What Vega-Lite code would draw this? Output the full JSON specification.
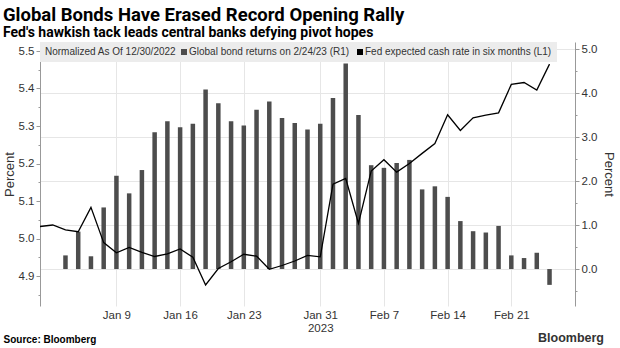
{
  "$schema": "https://vega.github.io/schema/vega-lite/v6.json",
  "width": 535,
  "height": 264,
  "autosize": "none",
  "padding": {"left": 40, "top": 42, "right": 45, "bottom": 42},
  "background": "white",
  "title": {
    "text": "Global Bonds Have Erased Record Opening Rally",
    "subtitle": "Fed's hawkish tack leads central banks defying pivot hopes",
    "anchor": "start",
    "frame": "group",
    "dx": -37,
    "offset": 2,
    "font": "Roboto",
    "fontSize": 18.5,
    "fontWeight": "bold",
    "color": "#000000",
    "subtitleFont": "Roboto",
    "subtitleFontSize": 14,
    "subtitleFontWeight": "bold",
    "subtitleColor": "#000000",
    "subtitlePadding": 2
  },
  "data": {
    "values": [
      {"d": "Dec 30", "bond": 0, "fed": 5.032},
      {"d": "Jan 2", "bond": null, "fed": 5.036},
      {"d": "Jan 3", "bond": 0.31, "fed": 5.023},
      {"d": "Jan 4", "bond": 0.85, "fed": 5.018},
      {"d": "Jan 5", "bond": 0.29, "fed": 5.083},
      {"d": "Jan 6", "bond": 1.40, "fed": 4.989},
      {"d": "Jan 9", "bond": 2.12, "fed": 4.962},
      {"d": "Jan 10", "bond": 1.72, "fed": 4.976},
      {"d": "Jan 11", "bond": 2.25, "fed": 4.963},
      {"d": "Jan 12", "bond": 3.11, "fed": 4.952},
      {"d": "Jan 13", "bond": 3.36, "fed": 4.959},
      {"d": "Jan 16", "bond": 3.22, "fed": 4.972},
      {"d": "Jan 17", "bond": 3.30, "fed": 4.950},
      {"d": "Jan 18", "bond": 4.08, "fed": 4.876},
      {"d": "Jan 19", "bond": 3.77, "fed": 4.920},
      {"d": "Jan 20", "bond": 3.36, "fed": 4.938},
      {"d": "Jan 23", "bond": 3.26, "fed": 4.958},
      {"d": "Jan 24", "bond": 3.62, "fed": 4.953},
      {"d": "Jan 25", "bond": 3.81, "fed": 4.918},
      {"d": "Jan 26", "bond": 3.43, "fed": 4.928},
      {"d": "Jan 27", "bond": 3.32, "fed": 4.940},
      {"d": "Jan 30", "bond": 3.17, "fed": 4.955},
      {"d": "Jan 31", "bond": 3.30, "fed": 4.951},
      {"d": "Feb 1", "bond": 3.89, "fed": 5.145},
      {"d": "Feb 2", "bond": 4.67, "fed": 5.160},
      {"d": "Feb 3", "bond": 3.50, "fed": 5.040},
      {"d": "Feb 6", "bond": 2.36, "fed": 5.180},
      {"d": "Feb 7", "bond": 2.30, "fed": 5.210},
      {"d": "Feb 8", "bond": 2.41, "fed": 5.177},
      {"d": "Feb 9", "bond": 2.48, "fed": 5.200},
      {"d": "Feb 10", "bond": 1.81, "fed": 5.227},
      {"d": "Feb 13", "bond": 1.88, "fed": 5.253},
      {"d": "Feb 14", "bond": 1.64, "fed": 5.330},
      {"d": "Feb 15", "bond": 1.09, "fed": 5.288},
      {"d": "Feb 16", "bond": 0.86, "fed": 5.322},
      {"d": "Feb 17", "bond": 0.83, "fed": 5.329},
      {"d": "Feb 20", "bond": 0.98, "fed": 5.335},
      {"d": "Feb 21", "bond": 0.31, "fed": 5.411},
      {"d": "Feb 22", "bond": 0.25, "fed": 5.416},
      {"d": "Feb 23", "bond": 0.37, "fed": 5.396},
      {"d": "Feb 24", "bond": -0.36, "fed": 5.465}
    ]
  },
  "encoding": {
    "x": {
      "field": "d",
      "type": "ordinal",
      "scale": {
        "type": "point",
        "padding": 0,
        "domain": ["Dec 30", "Jan 2", "Jan 3", "Jan 4", "Jan 5", "Jan 6", "Jan 9", "Jan 10", "Jan 11", "Jan 12", "Jan 13", "Jan 16", "Jan 17", "Jan 18", "Jan 19", "Jan 20", "Jan 23", "Jan 24", "Jan 25", "Jan 26", "Jan 27", "Jan 30", "Jan 31", "Feb 1", "Feb 2", "Feb 3", "Feb 6", "Feb 7", "Feb 8", "Feb 9", "Feb 10", "Feb 13", "Feb 14", "Feb 15", "Feb 16", "Feb 17", "Feb 20", "Feb 21", "Feb 22", "Feb 23", "Feb 24", "Feb 27", "Feb 28"]
      },
      "axis": {
        "values": ["Jan 9", "Jan 16", "Jan 23", "Jan 31", "Feb 7", "Feb 14", "Feb 21"],
        "labelExpr": "datum.value == 'Jan 31' ? ['Jan 31', '2023'] : datum.value",
        "labelAngle": 0,
        "grid": true,
        "gridColor": "#e6e6e6",
        "ticks": false,
        "domain": false,
        "labelPadding": 3,
        "title": "Source: Bloomberg",
        "titleAnchor": "start",
        "titleAlign": "left",
        "titleX": -37,
        "titleY": 33,
        "titleBaseline": "middle",
        "titleFont": "Liberation Sans",
        "titleFontSize": 10,
        "titleFontWeight": "bold",
        "titleColor": "#000000"
      }
    }
  },
  "layer": [
    {
      "mark": {"type": "bar", "width": 4.5, "color": "#4d4d4d"},
      "encoding": {
        "y": {
          "field": "bond",
          "type": "quantitative",
          "scale": {"domain": [-0.84, 5.16], "zero": false, "nice": false},
          "axis": {
            "orient": "right",
            "values": [-0.5, 0, 0.5, 1, 1.5, 2, 2.5, 3, 3.5, 4, 4.5, 5],
            "labelExpr": "datum.value % 1 == 0 ? format(datum.value, '.1f') : ''",
            "grid": true,
            "gridColor": "#e6e6e6",
            "gridOpacity": {"condition": {"test": "datum.value % 1 != 0", "value": 0}, "value": 1},
            "tickSize": {"condition": {"test": "datum.value % 1 != 0", "value": 2}, "value": 4},
            "title": "Percent",
            "titleAngle": 90,
            "titlePadding": 5
          }
        },
        "color": {
          "datum": "Global bond returns on 2/24/23 (R1)",
          "type": "nominal",
          "scale": {
            "domain": ["Global bond returns on 2/24/23 (R1)", "Fed expected cash rate in six months (L1)"],
            "range": ["#4d4d4d", "#000000"]
          },
          "legend": {
            "title": "Normalized As Of 12/30/2022",
            "orient": "top-left",
            "direction": "horizontal",
            "titleOrient": "left",
            "offset": 0,
            "padding": 5,
            "fillColor": "#ececec",
            "symbolType": "square",
            "symbolSize": 36,
            "symbolStrokeWidth": 0,
            "labelFont": "Liberation Sans",
            "labelFontSize": 10,
            "labelColor": "#333333",
            "labelLimit": 0,
            "titleFont": "Liberation Sans",
            "titleFontSize": 10,
            "titleFontWeight": "normal",
            "titleColor": "#333333",
            "titleLimit": 0,
            "titlePadding": 2,
            "columnPadding": 5,
            "labelOffset": 0
          }
        }
      }
    },
    {
      "mark": {"type": "line", "color": "#000000", "strokeWidth": 1.3},
      "encoding": {
        "y": {
          "field": "fed",
          "type": "quantitative",
          "scale": {"domain": [4.82, 5.524], "zero": false, "nice": false},
          "axis": {
            "orient": "left",
            "values": [4.85, 4.9, 4.95, 5.0, 5.05, 5.1, 5.15, 5.2, 5.25, 5.3, 5.35, 5.4, 5.45, 5.5],
            "labelExpr": "abs(datum.value * 10 - round(datum.value * 10)) > 0.1 ? '' : format(datum.value, '.1f')",
            "tickSize": {"condition": {"test": "abs(datum.value * 10 - round(datum.value * 10)) > 0.1", "value": 2}, "value": 4},
            "grid": false,
            "title": "Percent",
            "titlePadding": 2
          }
        }
      }
    },
    {
      "data": {"values": [{"t": "Bloomberg"}]},
      "mark": {"type": "text", "align": "right", "baseline": "middle", "dx": 29, "dy": 32, "font": "Liberation Sans", "fontSize": 12.5, "fontWeight": "bold", "color": "#333333"},
      "encoding": {
        "x": {"datum": "Feb 28", "type": "ordinal"},
        "y": {"datum": 0, "type": "quantitative", "scale": {"domain": [0, 1]}, "axis": null},
        "text": {"field": "t"}
      }
    }
  ],
  "resolve": {"scale": {"y": "independent"}, "axis": {"y": "independent"}},
  "config": {
    "view": {"stroke": null},
    "font": "Liberation Sans",
    "axis": {
      "labelFont": "Liberation Sans",
      "labelFontSize": 11.5,
      "labelColor": "#333333",
      "titleFont": "Liberation Sans",
      "titleFontSize": 13,
      "titleFontWeight": "normal",
      "titleColor": "#333333",
      "domainColor": "#999999",
      "tickColor": "#999999",
      "tickSize": 4,
      "labelPadding": 2
    }
  }
}
